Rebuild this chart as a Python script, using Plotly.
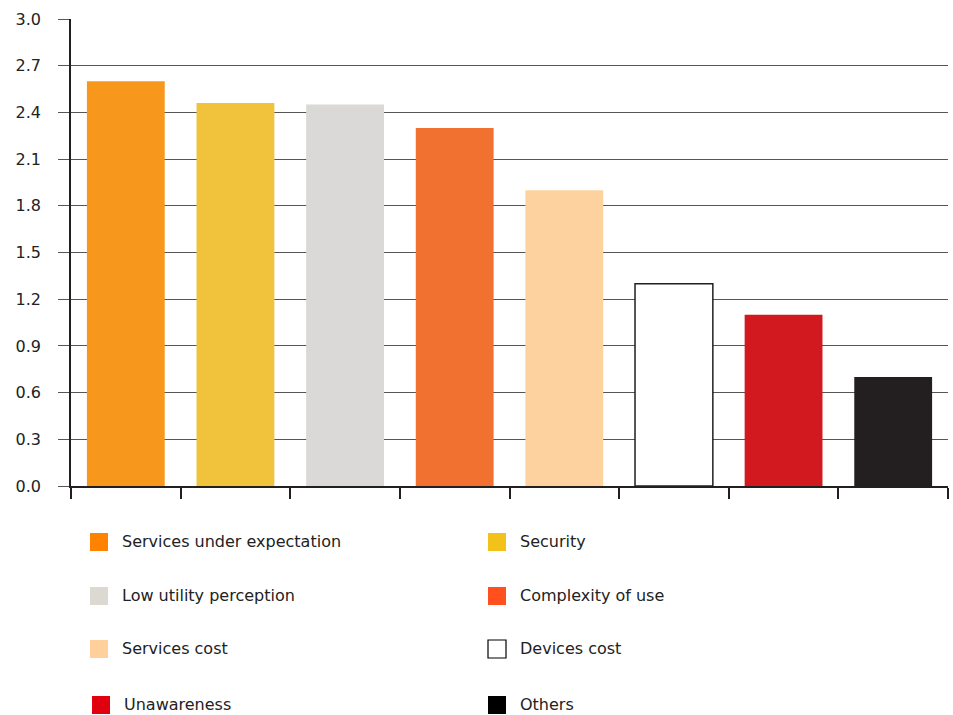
import plotly.graph_objects as go

# Barriers to adoption: average scores per reason
categories = [
    "Services under expectation",
    "Security",
    "Low utility perception",
    "Complexity of use",
    "Services cost",
    "Devices cost",
    "Unawareness",
    "Others",
]
scores = [2.60, 2.46, 2.45, 2.30, 1.90, 1.30, 1.10, 0.70]

bar_colors = ["#F7981D", "#F1C33C", "#DAD9D7", "#F17130",
              "#FDD29E", "#FFFFFF", "#D2191F", "#231F20"]
legend_colors = ["#FF8300", "#F2C11A", "#DCD9D3", "#FF501E",
                 "#FFD09B", "#FFFFFF", "#E1000F", "#000000"]
y_ticks = [0.0, 0.3, 0.6, 0.9, 1.2, 1.5, 1.8, 2.1, 2.4, 2.7, 3.0]

W, H = 953, 715
PL, PR, PT, PB = 71, 948, 19, 486  # plot area in pixels

fig = go.Figure()
fig.add_trace(go.Bar(
    x=categories,
    y=scores,
    width=0.71,
    marker=dict(
        color=bar_colors,
        line=dict(
            color=["#231F20" if c == "#FFFFFF" else c for c in bar_colors],
            width=[1.5 if c == "#FFFFFF" else 0 for c in bar_colors],
        ),
    ),
    showlegend=False,
    hoverinfo="x+y",
))


def px_x(px):
    return (px - PL) / (PR - PL)


def px_y(py):
    return (PB - py) / (PB - PT)


# Two-column legend below the chart
col_x = [90, 488]
row_y = [542, 596, 649, 705]
shapes = []
annotations = []
for i, (name, col) in enumerate(zip(categories, legend_colors)):
    r, c = divmod(i, 2)
    x0 = col_x[c] + (2 if name == "Unawareness" else 0)
    yc = row_y[r]
    shapes.append(dict(
        type="rect", xref="paper", yref="paper",
        x0=px_x(x0), x1=px_x(x0 + 18),
        y0=px_y(yc - 9), y1=px_y(yc + 9),
        fillcolor=col,
        line=dict(color="#000000" if col == "#FFFFFF" else col,
                  width=1.2 if col == "#FFFFFF" else 0),
    ))
    annotations.append(dict(
        xref="paper", yref="paper",
        x=px_x(x0 + 30), y=px_y(yc - 1),
        text=name, showarrow=False,
        xanchor="left", yanchor="middle",
        font=dict(family="DejaVu Sans", size=16, color="#222222"),
    ))

fig.update_layout(
    width=W, height=H,
    margin=dict(l=PL, r=W - PR, t=PT, b=H - PB, pad=0),
    paper_bgcolor="white",
    plot_bgcolor="white",
    bargap=0.29,
    font=dict(family="DejaVu Sans", size=16, color="#222222"),
    shapes=shapes,
    annotations=annotations,
    xaxis=dict(
        type="category",
        showticklabels=False,
        showgrid=False,
        showline=True, linecolor="#231F20", linewidth=1.5,
        ticks="outside", tickson="boundaries",
        ticklen=11, tickwidth=1.5, tickcolor="#231F20",
        fixedrange=True,
    ),
    yaxis=dict(
        range=[0, 3.0],
        tickvals=y_ticks,
        ticktext=[f"{v:.1f}" for v in y_ticks],
        showgrid=True, gridcolor="#555555", gridwidth=1,
        zeroline=False,
        showline=True, linecolor="#231F20", linewidth=1.5,
        ticks="outside", ticklen=11, tickwidth=1, tickcolor="#555555",
        ticklabelstandoff=14,
        tickfont=dict(family="DejaVu Sans", size=16, color="#222222"),
        fixedrange=True,
    ),
)

fig.write_html("out.html")
